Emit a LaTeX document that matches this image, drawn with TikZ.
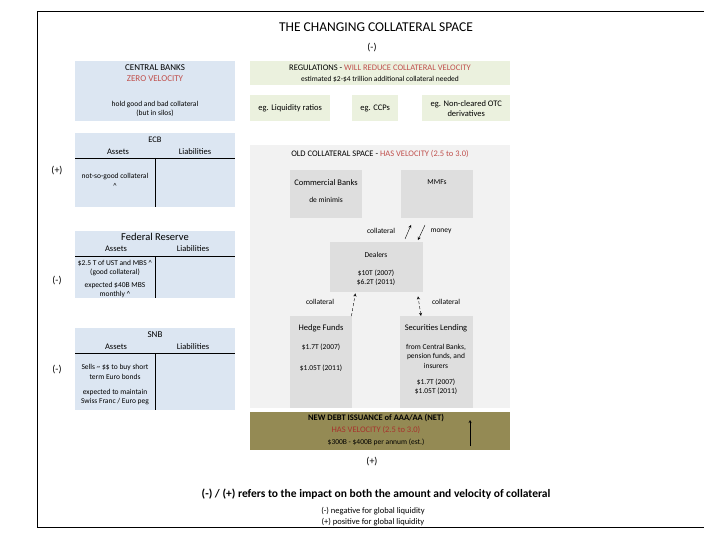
\documentclass[tikz,border=0pt]{standalone}
\usepackage{fontspec}
\setmainfont{Carlito}
\usetikzlibrary{positioning,arrows}
\definecolor{boxblue}{HTML}{DCE6F2}
\definecolor{boxgreen}{HTML}{EBF1DE}
\definecolor{spacegray}{HTML}{F2F2F2}
\definecolor{innergray}{HTML}{DEDEDE}
\definecolor{debtolive}{HTML}{948A54}
\definecolor{velred}{HTML}{C0504D}
\definecolor{debtred}{HTML}{A8322C}
\tikzstyle{arrow} = [thin,->,>=stealth]
\tikzstyle{panel} = [rectangle, anchor=north west, inner sep=0pt]
\tikzstyle{txt} = [font=\fontsize{7.5}{9.5}\selectfont, inner sep=0pt, align=center]
\tikzstyle{hdr} = [font=\fontsize{8.5}{10}\selectfont, inner sep=0pt, align=center]
\tikzstyle{sign} = [font=\fontsize{10}{11}\selectfont, inner sep=0pt]
\tikzstyle{rule} = [line width=0.9pt]

\begin{document}
\begin{tikzpicture}[x=1pt,y=-1pt]
  \useasboundingbox (0,0) rectangle (720,540);
  \draw[line width=1pt] (704,12) -- (37,12) -- (37,527) -- (704,527);
  \node[font=\fontsize{13.5}{15}\selectfont] (title) at (376,27) {THE CHANGING COLLATERAL SPACE};
  \node[sign] (regsign) at (372,48) {(-)};

  \node[panel, fill=boxblue, minimum width=160pt, minimum height=60pt] (cb) at (75,61) {};
  \node[hdr, font=\fontsize{9}{10}\selectfont] (cbname) at (155,68) {CENTRAL BANKS};
  \node[hdr, font=\fontsize{9}{10}\selectfont, text=velred] (cbvel) at (155,79) {ZERO VELOCITY};
  \node[txt] (cbtext) at (155,109) {hold good and bad collateral\\(but in silos)};

  \node[panel, fill=boxgreen, minimum width=260pt, minimum height=24pt] (reg) at (250,61) {};
  \node[hdr] (regname) at (380,68) {REGULATIONS - \textcolor{velred}{WILL REDUCE COLLATERAL VELOCITY}};
  \node[txt] (regtext) at (380,79) {estimated \$2-\$4 trillion additional collateral needed};
  \node[panel, fill=boxgreen, minimum width=80pt, minimum height=26pt] (liq) at (250,95) {};
  \node[hdr] at (liq.center) {eg. Liquidity ratios};
  \node[panel, fill=boxgreen, minimum width=46pt, minimum height=26pt] (ccp) at (352,95) {};
  \node[hdr] at (ccp.center) {eg. CCPs};
  \node[panel, fill=boxgreen, minimum width=88pt, minimum height=26pt] (otc) at (422,95) {};
  \node[hdr] at (otc.center) {eg. Non-cleared OTC\\derivatives};

  \node[panel, fill=boxblue, minimum width=160pt, minimum height=74pt] (ecb) at (75,133) {};
  \node[hdr] (ecbname) at (155,140) {ECB};
  \node[hdr] (ecbassets) at (118,152) {Assets};
  \node[hdr] (ecbliab) at (195,152) {Liabilities};
  \draw[rule] (75,158) -- (235,158);
  \draw[rule] (155,158) -- (155,207);
  \node[txt] (ecbtext) at (115,181) {not-so-good collateral\\\textasciicircum};
  \node[sign] (ecbsign) at (57,171) {(+)};

  \node[panel, fill=boxblue, minimum width=160pt, minimum height=67pt] (fed) at (75,231) {};
  \node[font=\fontsize{10.5}{12}\selectfont, inner sep=0pt] (fedname) at (155,237) {Federal Reserve};
  \node[hdr] (fedassets) at (116,249) {Assets};
  \node[hdr] (fedliab) at (193,249) {Liabilities};
  \draw[rule] (75,256) -- (235,256);
  \draw[rule] (155,256) -- (155,298);
  \node[txt] (fedtext) at (115,268) {\$2.5 T of UST and MBS \textasciicircum\\(good collateral)};
  \node[txt] (fedmbs) at (115,290) {expected \$40B MBS\\monthly \textasciicircum};
  \node[sign] (fedsign) at (57,281) {(-)};

  \node[panel, fill=boxblue, minimum width=160pt, minimum height=82pt] (snb) at (75,328) {};
  \node[hdr, font=\fontsize{9}{10}\selectfont] (snbname) at (155,335) {SNB};
  \node[hdr] (snbassets) at (116,347) {Assets};
  \node[hdr] (snbliab) at (193,347) {Liabilities};
  \draw[rule] (75,353) -- (235,353);
  \draw[rule] (155,353) -- (155,410);
  \node[txt] (snbtext) at (115,372) {Sells \textasciitilde{} \$\$ to buy short\\term Euro bonds};
  \node[txt] (snbpeg) at (115,397) {expected to maintain\\Swiss Franc / Euro peg};
  \node[sign] (snbsign) at (57,370) {(-)};

  \node[panel, fill=spacegray, minimum width=260pt, minimum height=263pt] (old) at (250,145) {};
  \node[hdr] (oldname) at (380,154) {OLD COLLATERAL SPACE - \textcolor{velred}{HAS VELOCITY (2.5 to 3.0)}};
  \node[panel, fill=innergray, minimum width=72pt, minimum height=48pt] (comm) at (290,170) {};
  \node[hdr] at (326,183) {Commercial Banks};
  \node[txt] at (326,200) {de minimis};
  \node[panel, fill=innergray, minimum width=72pt, minimum height=48pt] (mmf) at (401,170) {};
  \node[hdr, font=\fontsize{7.5}{9}\selectfont] at (437,182) {MMFs};
  \node[panel, fill=innergray, minimum width=93pt, minimum height=50pt] (dealers) at (330,242) {};
  \node[hdr, font=\fontsize{7.5}{9}\selectfont] at (376,255) {Dealers};
  \node[txt] at (376,278) {\$10T (2007)\\\$6.2T (2011)};
  \node[panel, fill=innergray, minimum width=62pt, minimum height=92pt] (hedge) at (290,316) {};
  \node[hdr] at (321,328) {Hedge Funds};
  \node[txt] at (321,347) {\$1.7T (2007)};
  \node[txt] at (321,368) {\$1.05T (2011)};
  \node[panel, fill=innergray, minimum width=73pt, minimum height=92pt] (seclend) at (400,316) {};
  \node[hdr] at (436,328) {Securities Lending};
  \node[txt] at (436,356) {from Central Banks,\\pension funds, and\\insurers};
  \node[txt] at (436,387) {\$1.7T (2007)\\\$1.05T (2011)};

  \coordinate (colfrom) at (405,239);
  \coordinate (colto) at (411,225);
  \coordinate (monfrom) at (425,225);
  \coordinate (monto) at (418,240);
  \draw[arrow] (colfrom) -- (colto);
  \draw[arrow] (monfrom) -- (monto);
  \node[txt] (collab) at (381,231) {collateral};
  \node[txt] (monlab) at (441,231) {money};
  \draw[arrow, densely dashed] ([xshift=-1pt]hedge.north east) -- ([xshift=3pt,yshift=-1pt]hedge.north east |- dealers.south);
  \draw[<->, >=stealth, thin, densely dashed] ([xshift=21pt]seclend.north west) -- ([xshift=18pt,yshift=-4pt]seclend.north west |- dealers.south);
  \node[txt] (hedgelab) at (320,302) {collateral};
  \node[txt] (seclab) at (446,302) {collateral};

  \node[panel, fill=debtolive, minimum width=260pt, minimum height=38pt] (debt) at (250,412) {};
  \node[hdr, font=\fontsize{8.5}{10}\bfseries] (debtname) at (376,418) {NEW DEBT ISSUANCE of AAA/AA (NET)};
  \node[hdr, text=debtred] (debtvel) at (376,430) {HAS VELOCITY (2.5 to 3.0)};
  \node[txt] (debtamt) at (376,442) {\$300B - \$400B per annum (est.)};
  \coordinate (debtlow) at (470,446);
  \coordinate (debthigh) at (470,420);
  \draw[arrow] (debtlow) -- (debthigh);
  \node[sign] (debtsign) at (372,462) {(+)};

  \node[font=\fontsize{11.5}{13}\selectfont\bfseries, inner sep=0pt] (note) at (376,494) {(-) / (+) refers to the impact on both the amount and velocity of collateral};
  \node[txt, font=\fontsize{8.5}{10}\selectfont] (noteneg) at (373,511) {(-) negative for global liquidity};
  \node[txt, font=\fontsize{8.5}{10}\selectfont] (notepos) at (373,522) {(+) positive for global liquidity};
\end{tikzpicture}
\end{document}
